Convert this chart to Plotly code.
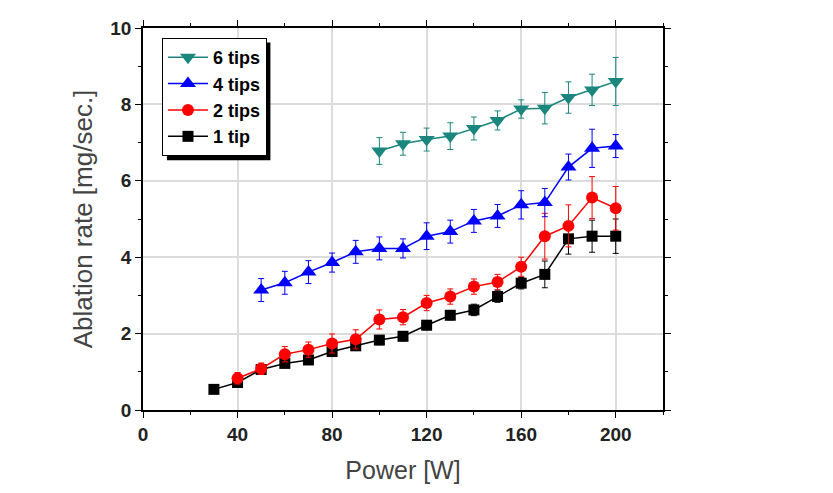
import plotly.graph_objects as go

power_1tip = [30, 40, 50, 60, 70, 80, 90, 100, 110, 120, 130, 140, 150, 160, 170, 180, 190, 200]
rate_1tip = [0.54, 0.72, 1.06, 1.22, 1.31, 1.53, 1.68, 1.83, 1.93, 2.22, 2.48, 2.62, 2.97, 3.32, 3.55, 4.48, 4.55, 4.55]
err_1tip = [0.08, 0.1, 0.1, 0.1, 0.1, 0.12, 0.12, 0.12, 0.12, 0.12, 0.12, 0.15, 0.15, 0.15, 0.35, 0.4, 0.42, 0.45]

power_2tips = [40, 50, 60, 70, 80, 90, 100, 110, 120, 130, 140, 150, 160, 170, 180, 190, 200]
rate_2tips = [0.83, 1.08, 1.46, 1.58, 1.74, 1.85, 2.37, 2.43, 2.8, 2.97, 3.23, 3.35, 3.75, 4.55, 4.82, 5.56, 5.28]
err_2tips = [0.15, 0.15, 0.2, 0.2, 0.25, 0.25, 0.25, 0.2, 0.2, 0.2, 0.2, 0.2, 0.25, 0.6, 0.55, 0.55, 0.57]

power_4tips = [50, 60, 70, 80, 90, 100, 110, 120, 130, 140, 150, 160, 170, 180, 190, 200]
rate_4tips = [3.14, 3.33, 3.61, 3.86, 4.14, 4.23, 4.23, 4.55, 4.67, 4.95, 5.08, 5.37, 5.43, 6.36, 6.85, 6.91]
err_4tips = [0.3, 0.3, 0.3, 0.25, 0.3, 0.3, 0.25, 0.35, 0.3, 0.3, 0.3, 0.37, 0.37, 0.34, 0.5, 0.3]

power_6tips = [100, 110, 120, 130, 140, 150, 160, 170, 180, 190, 200]
rate_6tips = [6.78, 6.97, 7.08, 7.17, 7.37, 7.58, 7.88, 7.9, 8.18, 8.38, 8.6]
err_6tips = [0.35, 0.3, 0.3, 0.35, 0.3, 0.25, 0.24, 0.41, 0.41, 0.41, 0.63]

series = [
    ("6 tips", power_6tips, rate_6tips, err_6tips, "#1a867e", "triangle-down", 14),
    ("4 tips", power_4tips, rate_4tips, err_4tips, "#0000ff", "triangle-up", 14),
    ("2 tips", power_2tips, rate_2tips, err_2tips, "#ff0000", "circle", 12),
    ("1 tip", power_1tip, rate_1tip, err_1tip, "#000000", "square", 11),
]

fig = go.Figure()
for name, x, y, e, color, sym, size in series[::-1]:
    fig.add_trace(go.Scatter(
        x=x, y=y, name=name, mode="lines+markers",
        line=dict(color=color, width=1.5),
        marker=dict(symbol=sym, size=size, color=color),
        error_y=dict(type="data", array=e, visible=True, color=color, thickness=1, width=3),
    ))

font = "Arial, Liberation Sans, sans-serif"
axis_common = dict(
    showline=True, linecolor="black", linewidth=1.5, mirror="ticks",
    ticks="outside", ticklen=6, tickwidth=1.2, tickcolor="black",
    showgrid=True, gridcolor="#dcdcdc", gridwidth=1.5, zeroline=False,
    automargin=False,
    tickfont=dict(family=font, size=19, color="#222", weight="bold"),
)

# legend shadow (paper coordinates)
fig.add_shape(type="rect", xref="paper", yref="paper",
              x0=0.046, x1=0.245, y0=0.654, y1=0.962,
              fillcolor="black", line=dict(width=0), layer="above")

fig.update_layout(
    width=833, height=493,
    margin=dict(l=135, r=178, t=20, b=91),
    paper_bgcolor="white", plot_bgcolor="white",
    showlegend=True,
    legend=dict(
        x=0.0365, y=0.974, xanchor="left", yanchor="top",
        traceorder="reversed",
        bgcolor="white", bordercolor="black", borderwidth=1,
        font=dict(family=font, size=18, color="black", weight="bold"),
        itemwidth=40, tracegroupgap=0,
    ),
    xaxis=dict(
        range=[0, 220], tickvals=[0, 40, 80, 120, 160, 200],
        minor=dict(dtick=20, tick0=0, ticks="outside", ticklen=3, tickcolor="black", showgrid=False),
        title=dict(text="Power [W]", font=dict(family=font, size=25, color="#444"), standoff=18),
        **axis_common,
    ),
    yaxis=dict(
        range=[0, 10], tickvals=[0, 2, 4, 6, 8, 10],
        minor=dict(dtick=1, tick0=0, ticks="outside", ticklen=3, tickcolor="black", showgrid=False),
        title=dict(text="Ablation rate [mg/sec.]", font=dict(family=font, size=26, color="#444"), standoff=10),
        **axis_common,
    ),
)

fig.write_html("out.html")
